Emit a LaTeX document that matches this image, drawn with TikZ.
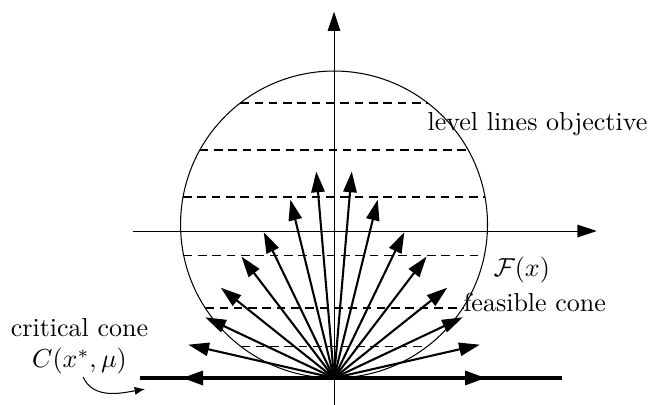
\documentclass[tikz,border=0pt]{standalone}
\usepackage{tikz}
\usetikzlibrary{arrows.meta, calc}
\usepackage{amsmath}

\begin{document}
\begin{tikzpicture}[
        axis/.style={-{Triangle[length=2.6mm, width=1.7mm]}, thin},
        fan/.style={-{Triangle[length=2.8mm, width=1.8mm]}, thick},
        critline/.style={-{Triangle[length=2.8mm, width=1.9mm]}, very thick},
        levelline/.style={dash pattern=on 3.3pt off 2.2pt, thin},
        txt/.style={inner sep=0pt, anchor=base west}
    ]
    \useasboundingbox (-4.514,-0.365) rectangle (4.297,5.108);
    
    \def\rad{2.074}
    \coordinate (O) at (0,0);
    \coordinate (M) at (0,\rad);
    
    % axes
    \draw[axis] (0,-0.365) -- (0,4.95);
    \draw[axis] (-2.72,1.986) -- (3.55,1.986);
    
    \draw[thin] (M) circle (\rad);
    
    % level lines of the objective
    \foreach \h in {3.716,3.081,2.446,1.649,0.946,0.419} {
        \pgfmathsetmacro\w{sqrt(\rad*\rad-(\h-\rad)*(\h-\rad))}
        \draw[levelline] (-\w,\h) -- (\w,\h);
    }
    
    % feasible directions
    \foreach \x/\y in {1.97/0.45, 1.74/0.82, 1.53/1.22, 1.25/1.64, 0.95/1.97, 0.59/2.41, 0.24/2.79} {
        \draw[fan] (O) -- (\x,\y);
        \draw[fan] (O) -- (-\x,\y);
    }
    
    % critical cone
    \draw[very thick] (-2.62,0) -- (3.08,0);
    \draw[critline] (O) -- (-2.05,0);
    \draw[critline] (O) -- (2.05,0);
    
    \node[txt] (level) at (1.257,3.342) {level lines objective};
    \node[txt] (Fx) at (2.149,1.369) {$\mathcal{F}(x)$};
    \node[txt] (feas) at (1.743,0.896) {feasible cone};
    \node[align=center, inner sep=1pt] (crit) at (-3.44,0.43) {critical cone\\$C(x^*,\mu)$};
    \coordinate (critend) at (-2.554,-0.149);
    
    \draw[-{Latex[length=1.4mm, width=1.1mm]}] ([xshift=0.05cm]crit.south) to[out=-65, in=190] (critend);
    
\end{tikzpicture}
\end{document}
